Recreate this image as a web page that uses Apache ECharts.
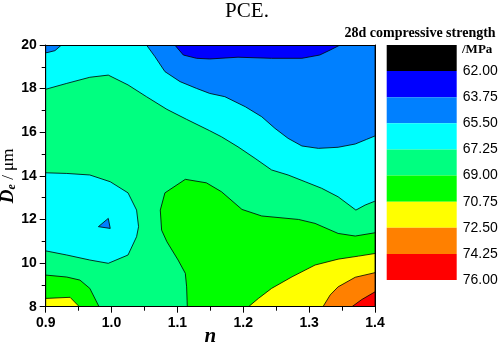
<!DOCTYPE html>
<html>
<head>
<meta charset="utf-8">
<script src="https://cdn.jsdelivr.net/npm/echarts@6/dist/echarts.min.js"></script>
<style>
  html, body { margin: 0; padding: 0; background: #fff; }
  #chart { width: 498px; height: 342px; }
</style>
</head>
<body>
<div id="chart"></div>
<script>
// colour levels of the legend (MPa), top box is below 62
const levels = [62.00, 63.75, 65.50, 67.25, 69.00, 70.75, 72.50, 74.25, 76.00];
const bandColors = ['#000000', '#0000ff', '#0080ff', '#00ffff', '#00ff80', '#00ff00', '#ffff00', '#ff8000', '#ff0000'];

// contour lines, points are [n, De]
const line6725Top = [[0.9,17.97],[0.932,18.24],[0.967,18.52],[0.995,18.62],[1.025,18.17],[1.053,17.63],[1.084,17.05],
  [1.114,16.59],[1.149,16.07],[1.167,15.79],[1.192,15.33],[1.218,14.80],[1.243,14.27],[1.268,14.04],[1.294,13.73],
  [1.319,13.43],[1.344,13.04],[1.371,12.43],[1.385,12.66],[1.4,12.84]];
const line6550Top = [[1.053,20],[1.066,19.46],[1.081,18.78],[1.104,18.32],[1.129,18.01],[1.149,17.78],[1.172,17.63],
  [1.203,17.17],[1.228,16.71],[1.248,16.18],[1.268,15.72],[1.289,15.37],[1.314,15.26],[1.344,15.31],[1.370,15.46],
  [1.387,15.67],[1.4,15.83]];
const line6550Corner = [[0.924,20],[0.914,19.74],[0.902,19.65],[0.9,19.65]];
const line6375 = [[1.096,20],[1.109,19.54],[1.129,19.39],[1.149,19.36],[1.192,19.44],[1.243,19.39],[1.289,19.39],
  [1.316,19.54],[1.332,19.77],[1.347,20]];
const line6725Blob = [[0.9,14.14],[0.932,14.11],[0.967,14.04],[0.998,13.73],[1.025,13.22],[1.038,12.43],[1.041,11.67],
  [1.038,11.21],[1.025,10.37],[0.995,9.99],[0.967,10.14],[0.932,10.37],[0.9,10.56]];
const line6550Spot = [[0.980,11.67],[0.995,12.05],[0.998,11.59]];
const line6900Right = [[1.115,8.0],[1.114,8.91],[1.112,9.53],[1.101,10.14],[1.084,10.98],[1.076,11.51],[1.074,12.43],
  [1.081,13.22],[1.112,13.84],[1.144,13.68],[1.167,13.27],[1.198,12.46],[1.228,12.16],[1.284,12.0],[1.309,11.82],
  [1.344,11.36],[1.370,11.24],[1.4,11.39]];
const line6900Corner = [[0.9,9.45],[0.932,9.36],[0.952,9.22],[0.967,8.84],[0.981,8.0]];
const line7075Left = [[0.9,8.38],[0.937,8.43],[0.951,8.0]];
const line7075Right = [[1.208,8.0],[1.223,8.38],[1.243,8.84],[1.274,9.37],[1.309,9.91],[1.344,10.18],[1.375,10.32],[1.4,10.44]];
const line7250 = [[1.321,8.0],[1.332,8.54],[1.344,8.91],[1.370,9.35],[1.4,9.56]];
const line7425 = [[1.365,8.0],[1.380,8.33],[1.4,8.68]];

const xMin = 0.9, xMax = 1.4, yMin = 8, yMax = 20;

// filled regions, painted in order
const layers = [
  { color: bandColors[4], pts: [[xMin,yMin],[xMax,yMin],[xMax,yMax],[xMin,yMax]] },
  { color: bandColors[3], pts: [[xMin,yMax],[xMax,yMax]].concat(line6725Top.slice().reverse()) },
  { color: bandColors[2], pts: line6550Top.concat([[xMax,yMax]]) },
  { color: bandColors[2], pts: line6550Corner.concat([[xMin,yMax]]) },
  { color: bandColors[1], pts: line6375 },
  { color: bandColors[3], pts: line6725Blob },
  { color: bandColors[2], pts: line6550Spot },
  { color: bandColors[5], pts: line6900Right.concat([[xMax,yMin]]) },
  { color: bandColors[5], pts: line6900Corner.concat([[xMin,yMin]]) },
  { color: bandColors[6], pts: line7075Left.concat([[xMin,yMin]]) },
  { color: bandColors[6], pts: line7075Right.concat([[xMax,yMin]]) },
  { color: bandColors[7], pts: line7250.concat([[xMax,yMin]]) },
  { color: bandColors[8], pts: line7425.concat([[xMax,yMin]]) }
];

const chart = echarts.init(document.getElementById('chart'));

const tickFont = { color: '#000', fontFamily: 'Liberation Sans', fontWeight: 'bold', fontSize: 14 };

const option = {
  animation: false,
  backgroundColor: '#fff',
  graphic: [
    { type: 'text', x: 247, y: 11, style: { text: 'PCE.', font: '21px "Liberation Serif"', fill: '#000', textAlign: 'center', textVerticalAlign: 'middle' } },
    { type: 'text', x: 344.5, y: 33, style: { text: '28d compressive strength', font: 'bold 14px "Liberation Serif"', fill: '#000', textAlign: 'left', textVerticalAlign: 'middle' } },
    { type: 'text', x: 462, y: 50, style: { text: '/MPa', font: 'bold 13px "Liberation Serif"', fill: '#000', textAlign: 'left', textVerticalAlign: 'middle' } }
  ],
  grid: [
    { left: 45.7, right: 123, top: 45, bottom: 35.3, outerBoundsMode: 'none', containLabel: false },
    { left: 386.7, width: 70, top: 45, height: 235, outerBoundsMode: 'none', containLabel: false }
  ],
  xAxis: [
    {
      gridIndex: 0, type: 'value', min: xMin, max: xMax, interval: 0.1, z: 10,
      axisLine: { show: true, lineStyle: { color: '#000', width: 1 } },
      axisTick: { show: true, length: 6, lineStyle: { color: '#000' } },
      minorTick: { show: true, splitNumber: 2, length: 4, lineStyle: { color: '#000' } },
      splitLine: { show: false },
      axisLabel: Object.assign({ margin: 9, formatter: v => v.toFixed(1) }, tickFont),
      name: 'n', nameLocation: 'middle', nameGap: 19, nameMoveOverlap: false,
      nameTextStyle: { fontFamily: 'Liberation Serif', fontStyle: 'italic', fontWeight: 'bold', fontSize: 21, color: '#000' }
    },
    {
      gridIndex: 0, type: 'value', position: 'top', min: xMin, max: xMax, z: 10,
      axisLine: { show: true, lineStyle: { color: '#000', width: 1 } },
      axisTick: { show: false }, axisLabel: { show: false }, splitLine: { show: false }
    },
    {
      gridIndex: 1, type: 'category', data: ['scale'],
      axisLine: { show: false }, axisTick: { show: false }, axisLabel: { show: false }
    }
  ],
  yAxis: [
    {
      gridIndex: 0, type: 'value', min: yMin, max: yMax, interval: 2, z: 10,
      axisLine: { show: true, lineStyle: { color: '#000', width: 1 } },
      axisTick: { show: true, length: 6, lineStyle: { color: '#000' } },
      minorTick: { show: true, splitNumber: 2, length: 4, lineStyle: { color: '#000' } },
      splitLine: { show: false },
      axisLabel: Object.assign({ margin: 9 }, tickFont),
      name: '{d|D}{e|e}{u| / μm}', nameLocation: 'middle', nameGap: 28, nameMoveOverlap: false,
      nameTextStyle: {
        color: '#000',
        rich: {
          d: { fontFamily: 'Liberation Serif', fontStyle: 'italic', fontWeight: 'bold', fontSize: 19, color: '#000' },
          e: { fontFamily: 'Liberation Serif', fontStyle: 'italic', fontWeight: 'bold', fontSize: 12, verticalAlign: 'bottom', color: '#000' },
          u: { fontFamily: 'Liberation Serif', fontSize: 17, color: '#000' }
        }
      }
    },
    {
      gridIndex: 0, type: 'value', position: 'right', min: yMin, max: yMax, z: 10,
      axisLine: { show: true, lineStyle: { color: '#000', width: 1 } },
      axisTick: { show: false }, axisLabel: { show: false }, splitLine: { show: false }
    },
    {
      gridIndex: 1, type: 'value', min: 0, max: levels.length, interval: 1, inverse: true, position: 'right',
      axisLine: { show: false }, axisTick: { show: false }, splitLine: { show: false },
      axisLabel: {
        margin: 6, color: '#000', fontFamily: 'Liberation Sans', fontSize: 14,
        formatter: v => (v === 0 ? '' : levels[v - 1].toFixed(2))
      }
    }
  ],
  series: [
    {
      type: 'custom',
      xAxisIndex: 0, yAxisIndex: 0,
      clip: true,
      data: layers.map((l, i) => [i]),
      renderItem: function (params, api) {
        const layer = layers[params.dataIndex];
        return {
          type: 'polygon',
          shape: { points: layer.pts.map(p => api.coord(p)) },
          style: { fill: layer.color, stroke: '#000', lineWidth: 0.8 }
        };
      }
    }
  ].concat(bandColors.map(c => ({
    type: 'bar', xAxisIndex: 2, yAxisIndex: 2, stack: 'scale', barWidth: '100%',
    itemStyle: { color: c }, data: [1]
  })))
};

chart.setOption(option);
</script>
</body>
</html>
